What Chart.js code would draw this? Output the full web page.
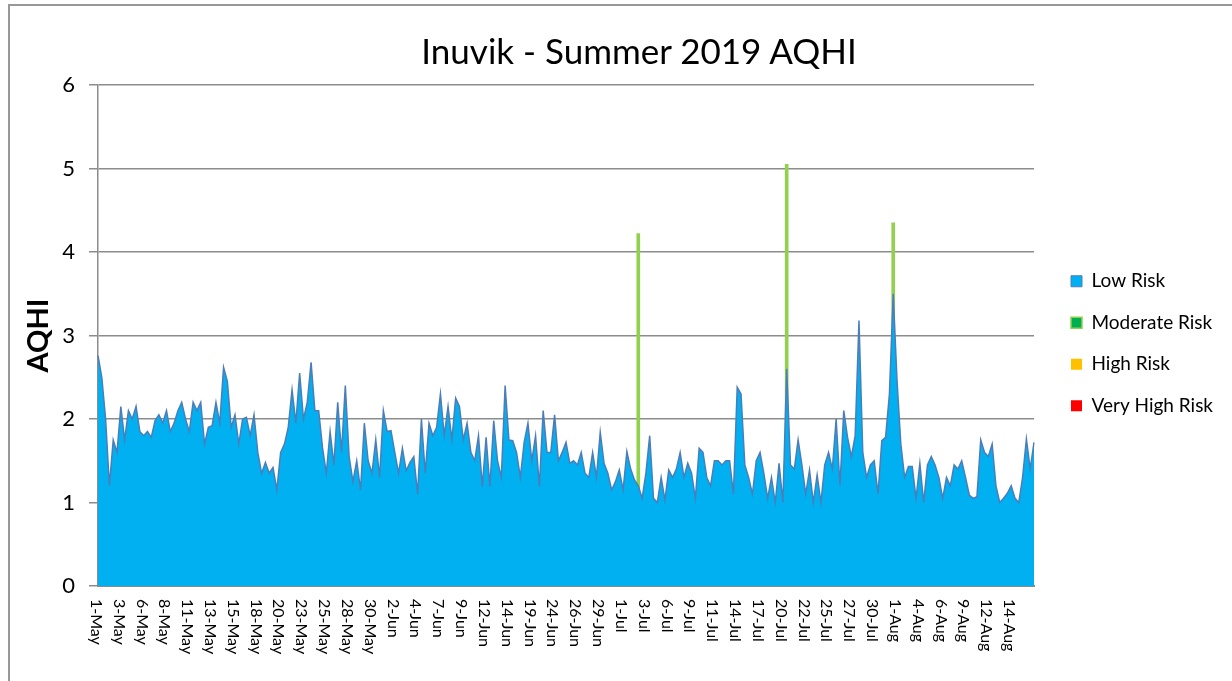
<!DOCTYPE html>
<html><head><meta charset="utf-8">
<script src="https://cdn.jsdelivr.net/npm/chart.js@4.4.1/dist/chart.umd.min.js"></script>
<style>
html,body{margin:0;padding:0;background:#fff;overflow:hidden;}
#wrap{position:relative;width:1232px;height:681px;overflow:hidden;}
#frame{position:absolute;left:8px;top:4px;width:1400px;height:900px;border:2px solid #989898;box-sizing:border-box;pointer-events:none;}
#title{position:absolute;left:0;width:1278px;top:29px;text-align:center;font-family:Lato,sans-serif;font-size:35px;color:#000;line-height:42px;}
canvas{position:absolute;left:0;top:0;}
</style></head><body>
<div id="wrap"><div id="frame"></div><canvas id="c" width="1232" height="681"></canvas><div id="title"></div></div>
<script>
const chartTitle = 'Inuvik - Summer 2019 AQHI';
const yAxisTitle = 'AQHI';
const seriesNames = ['Low Risk', 'Moderate Risk', 'High Risk', 'Very High Risk'];
const tickLabels = ['1-May','3-May','6-May','8-May','11-May','13-May','15-May','18-May','20-May','23-May','25-May','28-May','30-May',
  '2-Jun','4-Jun','7-Jun','9-Jun','12-Jun','14-Jun','19-Jun','24-Jun','26-Jun','29-Jun',
  '1-Jul','3-Jul','6-Jul','9-Jul','11-Jul','14-Jul','17-Jul','20-Jul','22-Jul','25-Jul','27-Jul','30-Jul',
  '1-Aug','4-Aug','6-Aug','9-Aug','12-Aug','14-Aug'];
const pointsPerTick = 6;
const lowRisk = [
  2.76,2.5,2.0,1.2,1.75,1.6,2.15,1.75,2.1,2.0,
  2.15,1.85,1.8,1.85,1.78,1.98,2.05,1.95,2.1,1.85,
  1.95,2.1,2.2,2.0,1.85,2.2,2.1,2.2,1.7,1.9,
  1.92,2.2,1.95,2.62,2.45,1.9,2.05,1.7,2.0,2.02,
  1.8,2.05,1.6,1.35,1.48,1.35,1.42,1.15,1.6,1.7,
  1.9,2.35,1.95,2.55,2.0,2.2,2.68,2.1,2.1,1.66,
  1.35,1.85,1.45,2.2,1.6,2.4,1.55,1.25,1.5,1.15,
  1.95,1.5,1.35,1.75,1.3,2.1,1.85,1.86,1.6,1.35,
  1.65,1.38,1.48,1.55,1.1,2.0,1.35,1.95,1.8,1.9,
  2.3,1.8,2.15,1.75,2.25,2.15,1.75,1.95,1.6,1.5,
  1.8,1.19,1.78,1.19,1.98,1.5,1.3,2.4,1.75,1.74,
  1.6,1.3,1.72,1.95,1.5,1.8,1.19,2.1,1.6,1.6,
  2.05,1.5,1.6,1.72,1.47,1.5,1.45,1.6,1.35,1.3,
  1.6,1.3,1.84,1.47,1.35,1.15,1.25,1.39,1.15,1.61,
  1.4,1.27,1.2,1.05,1.35,1.8,1.05,1.0,1.3,1.03,
  1.39,1.3,1.4,1.6,1.3,1.47,1.35,1.05,1.65,1.6,
  1.3,1.2,1.5,1.5,1.45,1.5,1.5,1.1,2.38,2.3,
  1.45,1.3,1.1,1.5,1.6,1.35,1.05,1.3,1.0,1.47,
  1.0,2.6,1.45,1.4,1.75,1.45,1.1,1.39,1.0,1.33,
  1.0,1.45,1.6,1.4,2.0,1.2,2.1,1.78,1.55,1.8,
  3.18,1.6,1.3,1.45,1.5,1.1,1.74,1.78,2.3,3.5,
  2.46,1.7,1.3,1.43,1.43,1.05,1.47,1.0,1.45,1.55,
  1.45,1.3,1.05,1.3,1.2,1.45,1.4,1.5,1.3,1.09,
  1.05,1.07,1.75,1.6,1.55,1.7,1.2,1.0,1.05,1.11,
  1.2,1.05,1.0,1.3,1.76,1.4,1.72
];
const moderateIndex = [142, 181, 209];
const moderateValue = [4.22, 5.05, 4.35];
const highRisk = [];
const veryHighRisk = [];
const yMin = 0, yMax = 6, yStep = 1;

const categories = lowRisk.map((v, i) => (i % pointsPerTick === 0 && tickLabels[i / pointsPerTick]) ? tickLabels[i / pointsPerTick] : '');
const moderateRisk = lowRisk.map(() => null);
moderateIndex.forEach((idx, k) => { moderateRisk[idx] = moderateValue[k]; });

document.getElementById('title').textContent = chartTitle;

const xLabelPlugin = {
  id: 'xLabels',
  afterDraw(chart) {
    const ctx = chart.ctx, xs = chart.scales.x;
    ctx.save();
    ctx.font = '16px Lato';
    ctx.fillStyle = '#000';
    ctx.textAlign = 'left';
    ctx.textBaseline = 'middle';
    tickLabels.forEach((t, k) => {
      const px = xs.getPixelForValue(k * pointsPerTick);
      ctx.save();
      ctx.translate(px - 2, xs.top + 13);
      ctx.rotate(Math.PI / 2);
      ctx.fillText(t, 0, 0);
      ctx.restore();
    });
    ctx.restore();
  }
};

const chart = new Chart(document.getElementById('c'), {
  type: 'line',
  data: {
    labels: categories,
    datasets: [
      { label: seriesNames[0], data: lowRisk, fill: 'origin', backgroundColor: '#00B0F0', borderColor: '#4A7EBB', borderWidth: 1.5,
        pointRadius: 0, tension: 0, legendFill: '#00B0F0', legendStroke: '#4A7EBB', legendLine: 1 },
      { type: 'bar', label: seriesNames[1], data: moderateRisk, backgroundColor: '#92D050', borderWidth: 0, barThickness: 3,
        legendFill: '#00B050', legendStroke: '#92D050', legendLine: 1.5 },
      { label: seriesNames[2], data: highRisk, backgroundColor: '#FFC000', borderColor: '#FFC000', borderWidth: 0,
        legendFill: '#FFC000', legendStroke: '#FFC000', legendLine: 0 },
      { label: seriesNames[3], data: veryHighRisk, backgroundColor: '#FF0000', borderColor: '#FF0000', borderWidth: 0,
        legendFill: '#FF0000', legendStroke: '#FF0000', legendLine: 0 }
    ]
  },
  options: {
    responsive: false,
    animation: false,
    devicePixelRatio: 1,
    events: [],
    layout: { padding: { left: 0, top: 85, right: 20, bottom: 79 } },
    plugins: {
      title: { display: false },
      tooltip: { enabled: false },
      legend: {
        position: 'right', align: 'center', fullSize: true,
        labels: {
          boxWidth: 11, boxHeight: 11, padding: 22.5, color: '#000',
          font: { family: 'Lato', size: 19 },
          generateLabels(ch) {
            const items = Chart.defaults.plugins.legend.labels.generateLabels(ch);
            items.sort((a, b) => a.datasetIndex - b.datasetIndex);
            items.forEach(it => {
              const d = ch.data.datasets[it.datasetIndex];
              it.fillStyle = d.legendFill; it.strokeStyle = d.legendStroke; it.lineWidth = d.legendLine;
            });
            return items;
          }
        }
      }
    },
    scales: {
      x: {
        type: 'category', offset: false,
        grid: { display: false },
        border: { display: true, color: '#8a8a8a', width: 2 },
        ticks: { display: false },
        afterFit(s) { s.height = 16; }
      },
      y: {
        min: yMin, max: yMax,
        ticks: { stepSize: yStep, padding: 14, color: '#000', font: { family: 'Lato', size: 22 } },
        grid: { color: '#8c8c8c', lineWidth: 1.5, tickLength: 9, drawTicks: true },
        border: { display: true, color: '#8c8c8c', width: 1.5 },
        title: { display: true, text: yAxisTitle, color: '#000', font: { family: 'Lato', size: 29, weight: 'bold' }, padding: { top: 21, bottom: 0 } },
        afterFit(s) { s.width = 98; }
      },
      gap: {
        type: 'linear', position: 'right', display: true,
        grid: { display: false }, border: { display: false }, ticks: { display: false },
        afterFit(s) { s.width = 14.5; }
      }
    }
  },
  plugins: [xLabelPlugin]
});
const dx = chart.chartArea.right - 1034;
if (Math.abs(dx) > 0.5) { chart.options.layout.padding.right += dx; chart.update(); }
</script>
</body></html>
